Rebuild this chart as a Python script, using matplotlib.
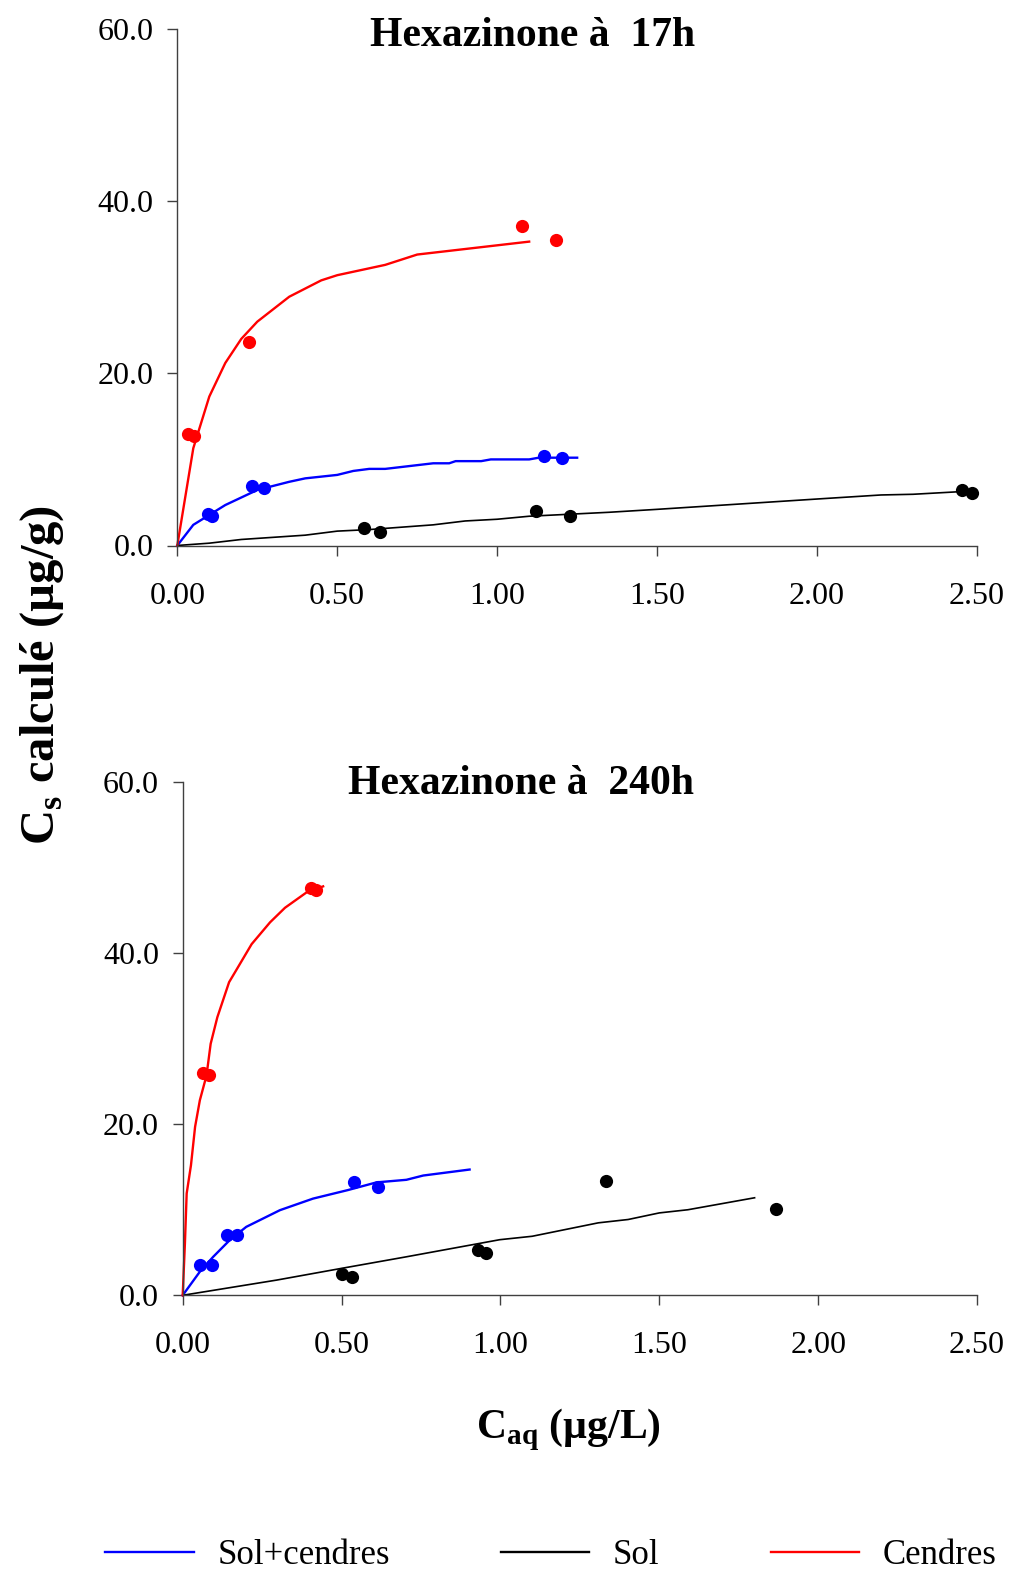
import matplotlib
matplotlib.use("Agg")
import matplotlib.pyplot as plt
from matplotlib.lines import Line2D

plt.rcParams['font.family'] = ['Liberation Serif', 'DejaVu Serif']
plt.rcParams['mathtext.fontset'] = 'custom'
plt.rcParams['mathtext.rm'] = 'Liberation Serif:bold'
plt.rcParams['mathtext.bf'] = 'Liberation Serif:bold'

# ---- Hexazinone 17h : measured points ----
sc17_x = [0.097, 0.109, 0.234, 0.272, 1.147, 1.203]
sc17_y = [3.66, 3.40, 6.90, 6.65, 10.37, 10.14]
sol17_x = [0.584, 0.633, 1.121, 1.228, 2.452, 2.483]
sol17_y = [2.00, 1.53, 4.05, 3.43, 6.45, 6.14]
cen17_x = [0.032, 0.053, 0.224, 1.078, 1.183]
cen17_y = [12.9, 12.7, 23.6, 37.15, 35.5]

# ---- Hexazinone 17h : model curves ----
sc17_fit_x = [0, 0.05, 0.10, 0.15, 0.25, 0.35, 0.40, 0.50, 0.55, 0.60, 0.65,
              0.80, 0.85, 0.87, 0.95, 0.98, 1.10, 1.13, 1.25]
sc17_fit_y = [0, 2.4, 3.55, 4.7, 6.45, 7.4, 7.8, 8.2, 8.66, 8.9, 8.9,
              9.55, 9.55, 9.8, 9.8, 10.0, 10.0, 10.2, 10.2]
sol17_fit_x = [0, 0.1, 0.2, 0.4, 0.5, 0.6, 0.8, 0.9, 1.0, 1.1, 1.35, 1.5,
               2.0, 2.2, 2.3, 2.45]
sol17_fit_y = [0, 0.27, 0.7, 1.2, 1.67, 1.85, 2.4, 2.85, 3.05, 3.4, 3.86, 4.2,
               5.4, 5.87, 5.95, 6.26]
cen17_fit_x = [0, 0.05, 0.10, 0.15, 0.20, 0.25, 0.35, 0.45, 0.50, 0.65, 0.75, 1.10]
cen17_fit_y = [0, 11.3, 17.3, 21.2, 24.0, 26.0, 28.9, 30.8, 31.4, 32.6, 33.8, 35.3]

# ---- Hexazinone 240h : measured points ----
sc240_x = [0.054, 0.093, 0.138, 0.170, 0.540, 0.615]
sc240_y = [3.6, 3.53, 7.1, 7.1, 13.2, 12.7]
sol240_x = [0.501, 0.533, 0.930, 0.956, 1.331, 1.867]
sol240_y = [2.45, 2.17, 5.28, 4.97, 13.37, 10.06]
cen240_x = [0.063, 0.082, 0.403, 0.419]
cen240_y = [25.96, 25.7, 47.65, 47.4]

# ---- Hexazinone 240h : model curves ----
sc240_fit_x = [0, 0.054, 0.096, 0.148, 0.20, 0.306, 0.41, 0.52, 0.61, 0.704, 0.757, 0.903]
sc240_fit_y = [0, 2.76, 4.5, 6.45, 8.0, 9.95, 11.3, 12.3, 13.2, 13.5, 14.0, 14.7]
sol240_fit_x = [0, 0.296, 0.5, 0.704, 0.998, 1.1, 1.308, 1.402, 1.5, 1.59, 1.8]
sol240_fit_y = [0, 1.78, 3.15, 4.5, 6.5, 6.9, 8.47, 8.86, 9.63, 10.0, 11.4]
cen240_fit_x = [0, 0.007, 0.0125, 0.026, 0.039, 0.054, 0.075, 0.088, 0.109, 0.146,
                0.17, 0.217, 0.275, 0.322, 0.39, 0.442]
cen240_fit_y = [0, 6.1, 11.9, 15.2, 19.7, 22.8, 25.7, 29.4, 32.5, 36.6,
                38.1, 41.05, 43.6, 45.3, 47.1, 47.8]

x_ticks = [0, 0.5, 1.0, 1.5, 2.0, 2.5]
y_ticks = [0, 20, 40, 60]
labels = ["Sol+cendres", "Sol", "Cendres"]
colors = ["#0000ff", "black", "#ff0000"]

W, H = 1009, 1573
fig = plt.figure(figsize=(W / 100, H / 100), dpi=100)


def panel(rect, pts, fits):
    ax = fig.add_axes(rect)
    for (fx, fy), c in zip(fits, colors):
        lw = 1.2 if c == "black" else 1.7
        ax.plot(fx, fy, color=c, lw=lw, clip_on=False, zorder=2)
    for (px, py), c in zip(pts, colors):
        ax.plot(px, py, 'o', color=c, ms=9.5, mec='none', clip_on=False, zorder=3)
    ax.set_xlim(0, 2.5)
    ax.set_ylim(0, 60)
    ax.set_xticks(x_ticks)
    ax.set_xticklabels([f"{v:.2f}" for v in x_ticks])
    ax.set_yticks(y_ticks)
    ax.set_yticklabels([f"{v:.1f}" for v in y_ticks])
    for s in ["top", "right"]:
        ax.spines[s].set_visible(False)
    for s in ["left", "bottom"]:
        ax.spines[s].set_color("#404040")
        ax.spines[s].set_linewidth(1.0)
    ax.tick_params(axis='x', direction='out', length=7, width=1.0, color="#404040",
                   labelsize=23, pad=19)
    ax.tick_params(axis='y', direction='out', length=7, width=1.0, color="#404040",
                   labelsize=23, pad=10)
    return ax


ax1 = panel([177.3 / W, 1 - 545.5 / H, (977 - 177.3) / W, (545.5 - 29) / H],
            [(sc17_x, sc17_y), (sol17_x, sol17_y), (cen17_x, cen17_y)],
            [(sc17_fit_x, sc17_fit_y), (sol17_fit_x, sol17_fit_y), (cen17_fit_x, cen17_fit_y)])
ax2 = panel([182.7 / W, 1 - 1295.3 / H, (977 - 182.7) / W, (1295.3 - 782) / H],
            [(sc240_x, sc240_y), (sol240_x, sol240_y), (cen240_x, cen240_y)],
            [(sc240_fit_x, sc240_fit_y), (sol240_fit_x, sol240_fit_y), (cen240_fit_x, cen240_fit_y)])

fig.text(533 / W, 1 - 36 / H, "Hexazinone à  17h", ha='center', va='center',
         fontsize=30, fontweight='bold')
fig.text(521 / W, 1 - 784 / H, "Hexazinone à  240h", ha='center', va='center',
         fontsize=30, fontweight='bold')

fig.text(42 / W, 1 - 675 / H, "C$_{\\mathrm{s}}$ calculé (µg/g)", rotation=90,
         ha='center', va='center', fontsize=35, fontweight='bold')
fig.text(568 / W, 1 - 1430 / H, "C$_{\\mathrm{aq}}$ (µg/L)",
         ha='center', va='center', fontsize=30, fontweight='bold')

handles = [Line2D([], [], color=c, lw=1.7) for c in colors]
fig.legend(handles, labels, loc='center left', bbox_to_anchor=(105 / W, 1 - 1556 / H),
           ncol=3, frameon=False, fontsize=25, handlelength=2.55, handletextpad=0.68,
           columnspacing=3.2, borderpad=0, borderaxespad=0)

fig.savefig("out.png", dpi=100)
